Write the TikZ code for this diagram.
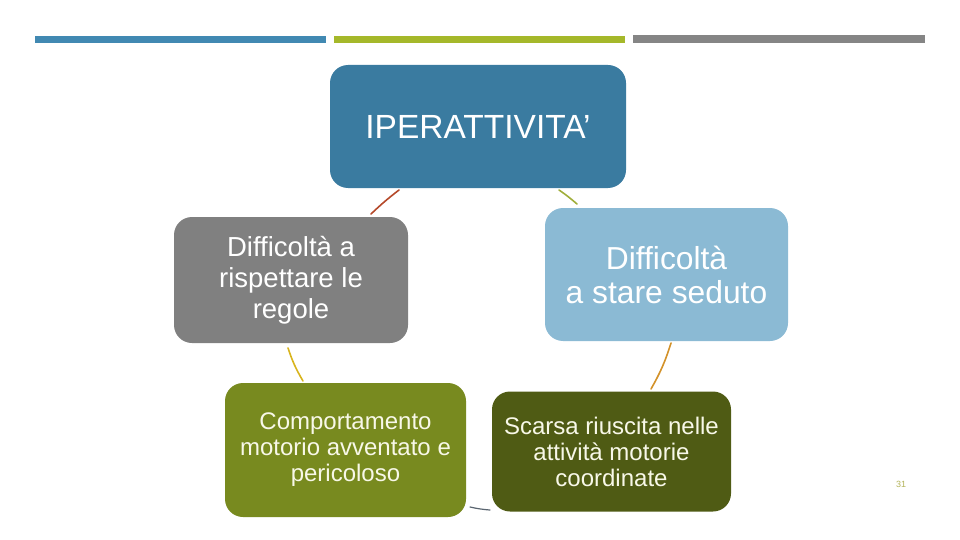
\documentclass[tikz,border=0pt]{standalone}
\usepackage{fontspec}
\setmainfont{Liberation Sans}
\definecolor{topblue}{HTML}{3A7BA0}
\definecolor{lightblue}{HTML}{8BBAD4}
\definecolor{boxgray}{HTML}{808080}
\definecolor{olive1}{HTML}{788A1F}
\definecolor{olive2}{HTML}{4F5B14}
\definecolor{barblue}{HTML}{4189B2}
\definecolor{bargreen}{HTML}{A5B82A}
\definecolor{bargray}{HTML}{858585}
\definecolor{cA}{HTML}{B5492A}
\definecolor{cB}{HTML}{A0AE3A}
\definecolor{cC}{HTML}{D8B41E}
\definecolor{cD}{HTML}{D3922A}
\definecolor{cE}{HTML}{5A6570}
\definecolor{numcol}{HTML}{B3B35A}
\definecolor{cream}{HTML}{F8F8E8}
\begin{document}
\begin{tikzpicture}[x=1pt,y=-1pt,
  box/.style={rounded corners=18pt, inner sep=0pt, align=center, text=white},
  conn/.style={line width=1.6pt, line cap=round},
  bar/.style={inner sep=0pt, minimum height=7pt}]
\useasboundingbox (0,0) rectangle (960,540);
% top bars
\node[bar, fill=barblue, minimum width=291pt] (b1) at (180.5,39.5) {};
\node[bar, fill=bargreen, minimum width=291pt] (b2) at (479.5,39.5) {};
\node[bar, fill=bargray, minimum width=292pt, minimum height=8pt] (b3) at (779,39) {};
% boxes
\node[box, fill=topblue, minimum width=296pt, minimum height=123pt,
      font=\fontsize{33.5}{36}\selectfont] (top) at (478,126.5) {IPERATTIVITA’};
\node[box, fill=lightblue, minimum width=243pt, minimum height=133pt,
      font=\fontsize{31.8}{34}\selectfont] (rb) at (666.5,274.5) {Difficoltà\\a stare seduto};
\node[box, fill=boxgray, minimum width=234pt, minimum height=126pt,
      font=\fontsize{27.5}{31}\selectfont] (lb) at (291,280) {Difficoltà a\\rispettare le\\regole};
\node[box, fill=olive1, text=cream, minimum width=241pt, minimum height=134pt,
      font=\fontsize{24}{26}\selectfont] (ll) at (345.5,450) {Comportamento\\motorio avventato e\\pericoloso};
\node[box, fill=olive2, text=cream, minimum width=239pt, minimum height=120pt,
      font=\fontsize{24}{26}\selectfont] (rl) at (611.5,451.5) {Scarsa riuscita nelle\\attività motorie\\coordinate};
\node[text=numcol, font=\fontsize{9}{10}\selectfont, inner sep=0pt] (num) at (901,484) {31};
% connector end points
\coordinate (a1) at (399,190); \coordinate (a2) at (371,214);
\coordinate (b1e) at (559,190); \coordinate (b2e) at (577,204);
\coordinate (c1) at (288,348); \coordinate (c2) at (303,381);
\coordinate (d1) at (671,343); \coordinate (d2) at (651,389);
\coordinate (e1) at (470,507); \coordinate (e2) at (490,510);
\draw[conn, draw=cA] (a1) to[bend right=3] (a2);
\draw[conn, draw=cB] (b1e) to[bend left=3] (b2e);
\draw[conn, draw=cC] (c1) to[bend right=6] (c2);
\draw[conn, draw=cD] (d1) to[bend left=6] (d2);
\draw[conn, draw=cE, line width=1.2pt] (e1) to[bend right=4] (e2);
\end{tikzpicture}
\end{document}
